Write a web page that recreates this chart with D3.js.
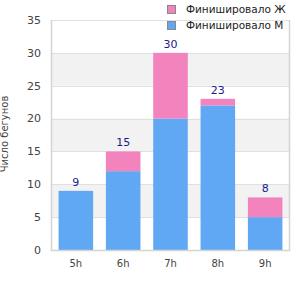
<!DOCTYPE html>
<html>
<head>
<meta charset="utf-8">
<script src="https://cdn.jsdelivr.net/npm/d3@7"></script>
<style>
  body { margin: 0; background: #fff; }
  text { font-family: "DejaVu Sans", sans-serif; }
</style>
</head>
<body>
<svg id="chart" width="300" height="300"></svg>
<script>
// data
var categories = ["5h", "6h", "7h", "8h", "9h"];
var finishedM = [9, 12, 20, 22, 5];
var finishedF = [0, 3, 10, 1, 3];
var seriesNames = ["Финишировало М", "Финишировало Ж"];
var yTicks = [0, 5, 10, 15, 20, 25, 30, 35];

var colors = ["#60a8f4", "#f283bd"];

var margin = {top: 20, right: 10, bottom: 50, left: 51},
    width = 300 - margin.left - margin.right,
    height = 300 - margin.top - margin.bottom;

var svg = d3.select("#chart");
var g = svg.append("g")
    .attr("transform", `translate(${margin.left},${margin.top})`);

var x = d3.scaleBand()
    .domain(categories)
    .range([0, width])
    .paddingInner(0.27)
    .paddingOuter(0.16);

var y = d3.scaleLinear()
    .domain([0, 35])
    .range([height, 0]);

// alternating bands
var bands = d3.pairs(yTicks).filter((p, i) => i % 2 == 1);
g.selectAll("rect.band")
    .data(bands)
    .join("rect")
    .attr("class", "band")
    .attr("x", 0)
    .attr("width", width)
    .attr("y", d => y(d[1]))
    .attr("height", d => y(d[0]) - y(d[1]))
    .attr("fill", "#f2f2f2");

// grid lines
g.selectAll("line.grid")
    .data(yTicks.slice(1))
    .join("line")
    .attr("class", "grid")
    .attr("x1", 0)
    .attr("x2", width)
    .attr("y1", d => Math.round(y(d)) + 0.5)
    .attr("y2", d => Math.round(y(d)) + 0.5)
    .attr("stroke", "#e0e0e0");

// stacked bars
var rows = categories.map((c, i) => ({cat: c, m: finishedM[i], f: finishedF[i]}));
var stack = d3.stack().keys(["m", "f"]);
var layers = stack(rows);

g.selectAll("g.layer")
    .data(layers)
    .join("g")
    .attr("class", "layer")
    .attr("fill", (d, i) => colors[i])
    .selectAll("rect")
    .data(d => d)
    .join("rect")
    .attr("x", d => x(d.data.cat))
    .attr("width", x.bandwidth())
    .attr("y", d => y(d[1]))
    .attr("height", d => y(d[0]) - y(d[1]));

// total labels
g.selectAll("text.total")
    .data(rows)
    .join("text")
    .attr("class", "total")
    .attr("x", d => x(d.cat) + x.bandwidth() / 2)
    .attr("y", d => y(d.m + d.f) - 5)
    .attr("text-anchor", "middle")
    .attr("font-size", 11)
    .attr("fill", "#1a1a8c")
    .text(d => d.m + d.f);

// axis frame
g.append("path")
    .attr("d", `M0.5,0V${height + 0.5}H${width - 0.5}V0`)
    .attr("fill", "none")
    .attr("stroke", "#d4d4d4")
    .attr("stroke-width", 1.5);

// y axis labels
g.selectAll("text.ytick")
    .data(yTicks)
    .join("text")
    .attr("class", "ytick")
    .attr("x", -10)
    .attr("y", d => y(d))
    .attr("dy", "0.35em")
    .attr("text-anchor", "end")
    .attr("font-size", 11)
    .attr("fill", "#444")
    .text(d => d);

// x axis labels
g.selectAll("text.xtick")
    .data(categories)
    .join("text")
    .attr("class", "xtick")
    .attr("x", d => x(d) + x.bandwidth() / 2)
    .attr("y", height + 17)
    .attr("text-anchor", "middle")
    .attr("font-size", 10)
    .attr("fill", "#444")
    .text(d => d);

// y title
svg.append("text")
    .attr("transform", "translate(8,134) rotate(-90)")
    .attr("text-anchor", "middle")
    .attr("font-size", 10)
    .attr("fill", "#444")
    .text("Число бегунов");

// legend (reverse order: Ж on top)
var legend = svg.selectAll("g.legend")
    .data([1, 0])
    .join("g")
    .attr("class", "legend")
    .attr("transform", (d, i) => `translate(167,${5 + i * 16})`);
legend.append("rect")
    .attr("x", 0.5).attr("y", 0.5)
    .attr("width", 8).attr("height", 8)
    .attr("fill", d => colors[d])
    .attr("stroke", "#888");
legend.append("text")
    .attr("x", 19)
    .attr("y", 4.5)
    .attr("dy", "0.35em")
    .attr("font-size", 10.5)
    .attr("fill", "#222")
    .text(d => seriesNames[d]);
</script>
</body>
</html>
